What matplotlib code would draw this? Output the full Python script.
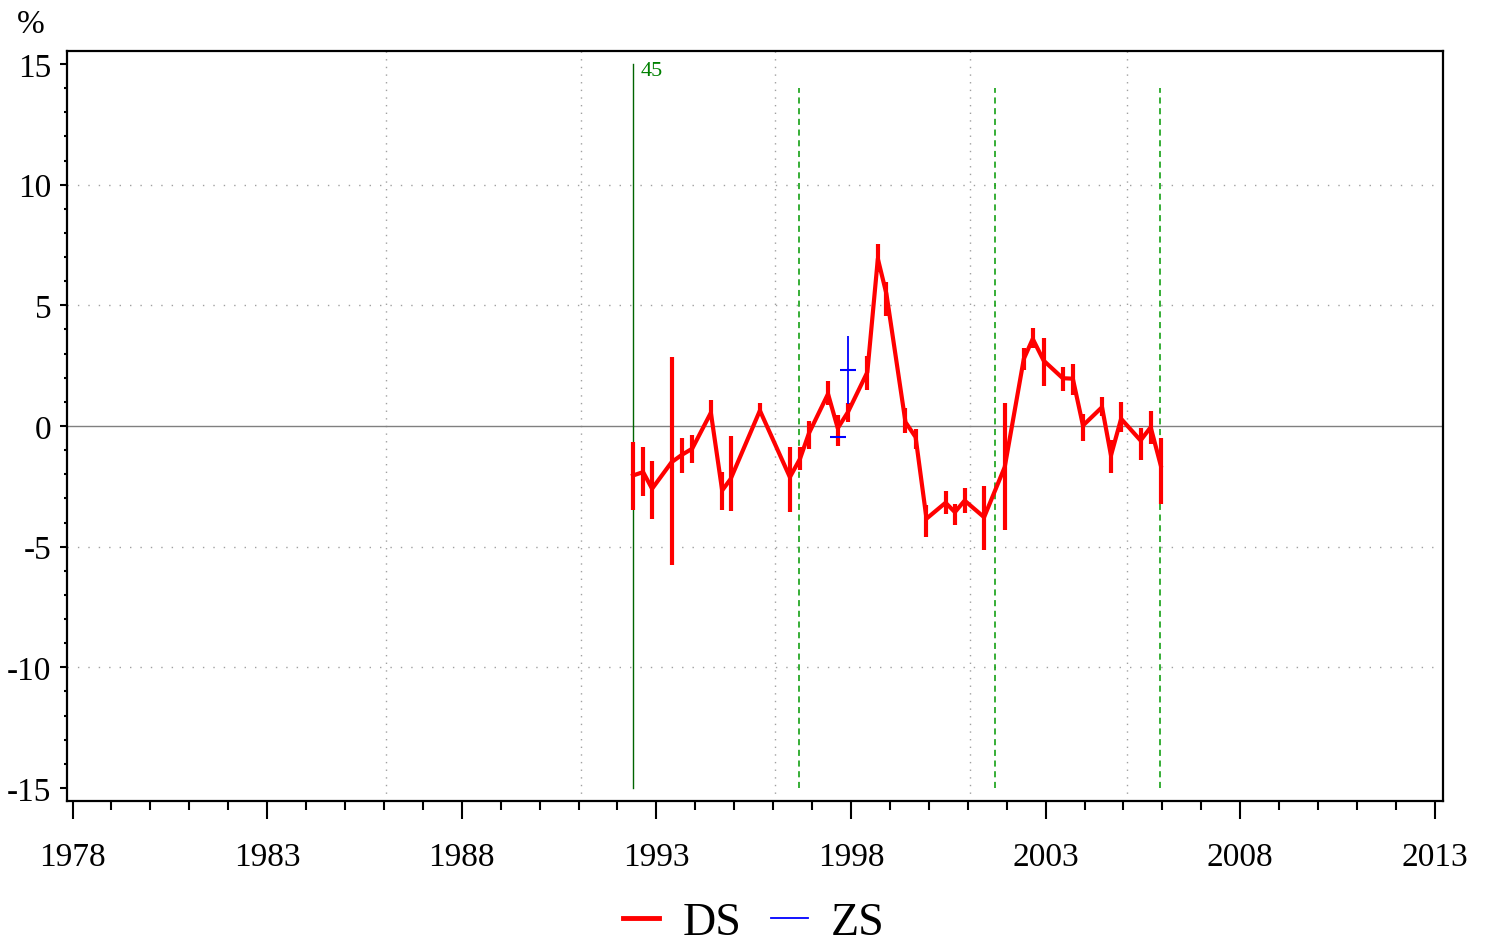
import matplotlib
matplotlib.use("Agg")
import matplotlib.pyplot as plt
from matplotlib.lines import Line2D
import numpy as np

plt.rcParams['font.family'] = ['Liberation Serif', 'DejaVu Serif']
plt.rcParams['axes.unicode_minus'] = False

# DS series: date (decimal year), value, upper and lower end of the bar
ds_x = [1992.40, 1992.66, 1992.89, 1993.39, 1993.66, 1993.92, 1994.40, 1994.69,
        1994.91, 1995.66, 1996.43, 1996.69, 1996.92, 1997.41, 1997.66, 1997.92,
        1998.42, 1998.69, 1998.91, 1999.40, 1999.66, 1999.94, 2000.43, 2000.67,
        2000.92, 2001.42, 2001.95, 2002.44, 2002.67, 2002.95, 2003.44, 2003.70,
        2003.96, 2004.45, 2004.68, 2004.94, 2005.44, 2005.70, 2005.96]
ds_y = [-2.05, -1.91, -2.60, -1.50, -1.19, -0.94, 0.55, -2.67,
        -2.19, 0.64, -2.12, -1.36, -0.30, 1.33, -0.09, 0.57,
        2.23, 6.93, 5.48, 0.16, -0.46, -3.84, -3.18, -3.57,
        -3.09, -3.78, -1.70, 2.78, 3.61, 2.71, 1.98, 1.96,
        0.02, 0.78, -1.22, 0.30, -0.60, -0.05, -1.64]
ds_hi = [-0.67, -0.87, -1.47, 2.85, -0.50, -0.39, 1.06, -1.91,
         -0.43, 0.95, -0.87, -0.87, 0.19, 1.88, 0.46, 0.96,
         2.92, 7.55, 5.96, 0.74, -0.14, -3.26, -2.71, -3.22,
         -2.56, -2.49, 0.96, 3.23, 4.07, 3.64, 2.46, 2.58,
         0.51, 1.20, -0.56, 0.99, -0.07, 0.64, -0.49]
ds_lo = [-3.50, -2.88, -3.84, -5.75, -1.95, -1.52, 0.30, -3.50,
         -3.54, 0.43, -3.57, -1.81, -0.94, 0.85, -0.81, 0.16,
         1.50, 6.37, 4.55, -0.28, -0.94, -4.60, -3.64, -4.09,
         -3.60, -5.12, -4.33, 2.34, 3.23, 1.65, 1.44, 1.29,
         -0.64, 0.41, -1.95, -0.25, -1.39, -0.74, -3.22]

# ZS series
zs_x = [1997.66, 1997.92]
zs_y = [-0.46, 2.34]
zs_hi = [-0.46, 3.72]
zs_lo = [-0.46, 0.92]

# reference lines
event_x = 1992.40
event_label = "45"
dashed_x = [1996.66, 2001.69, 2005.94]
vgrid_x = [1986.05, 1991.06, 1996.04, 2001.05, 2005.08]
hgrid_y = [-10, -5, 5, 10]

fig = plt.figure(figsize=(14.89, 9.45), dpi=100)
ax = fig.add_axes([0.0448, 0.1513, 0.9243, 0.7937])

for x in vgrid_x:
    ax.axvline(x, color='#a0a0a0', lw=1.0, ls=(0, (1, 4.5)), zorder=0)
for y in hgrid_y:
    ax.axhline(y, color='#a0a0a0', lw=1.0, ls=(0, (1, 6.5)), zorder=0)
ax.axhline(0, color='#808080', lw=1.0, zorder=1)

ax.plot([event_x, event_x], [-15, 15], color='#006400', lw=1.0, zorder=2)
ax.text(event_x + 0.2, 14.55, event_label, color='#008000', fontsize=16,
        ha='left', va='baseline')
for x in dashed_x:
    ax.plot([x, x], [-15, 14], color='#009900', lw=1.1, ls=(0, (4, 3)), zorder=2)

# DS line and bars
ax.vlines(ds_x, ds_lo, ds_hi, color='red', lw=3.0, zorder=3)
ax.plot(ds_x, ds_y, color='red', lw=3.0, zorder=3)

# ZS bars with centre marks
ax.vlines(zs_x, zs_lo, zs_hi, color='blue', lw=1.3, zorder=4)
ax.plot(zs_x, zs_y, ls='none', marker='_', ms=12, mew=1.5, color='blue', zorder=4)

ax.set_xlim(1977.85, 2013.21)
ax.set_ylim(-15.54, 15.54)

ax.set_xticks(np.arange(1978, 2014, 5))
ax.set_xticks(np.arange(1978, 2014, 1), minor=True)
ax.set_yticks(np.arange(-15, 16, 5))
ax.set_yticks(np.arange(-15, 16, 1), minor=True)

ax.tick_params(axis='x', which='major', length=13, width=1.5, direction='out',
               pad=16, labelsize=24)
ax.tick_params(axis='x', which='minor', length=6.5, width=1.5, direction='out')
ax.tick_params(axis='y', which='major', length=5, width=1.5, direction='out',
               pad=6, labelsize=24)
ax.tick_params(axis='y', which='minor', length=2, width=1.5, direction='out')

for s in ax.spines.values():
    s.set_linewidth(1.6)

fig.text(17 / 1489, 1 - 33 / 945, "%", fontsize=24, ha='left', va='baseline')

handles = [Line2D([], [], color='red', lw=3.5), Line2D([], [], color='blue', lw=1.3)]
fig.legend(handles, ["DS", "ZS"], loc='center', bbox_to_anchor=(0.506, 0.022),
           ncol=2, frameon=False, fontsize=33, handlelength=0.8,
           handletextpad=0.5, columnspacing=0.65)

fig.savefig("out.png", dpi=100)
